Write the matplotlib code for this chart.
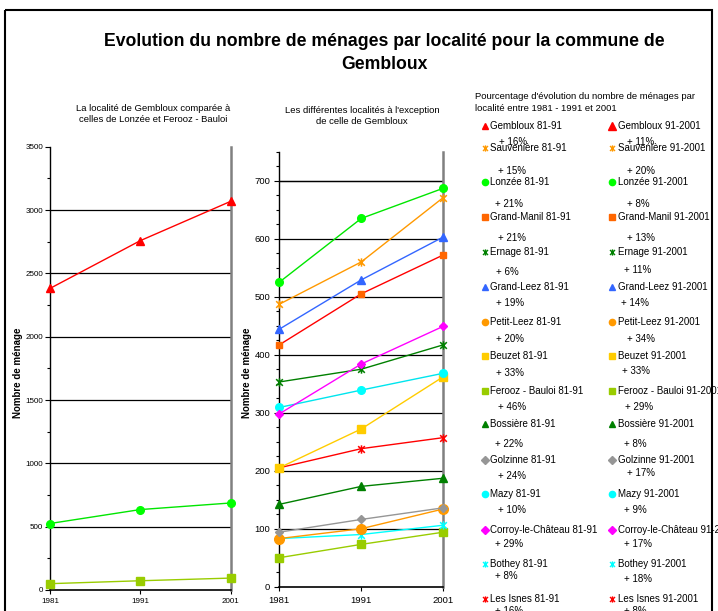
import matplotlib
matplotlib.use("Agg")
import matplotlib.pyplot as plt
from matplotlib.path import Path
from matplotlib.patches import Rectangle
from matplotlib.ticker import MultipleLocator

plt.rcParams['font.family'] = ['Liberation Sans', 'DejaVu Sans']

# ---- data: number of households per locality ----
years = [1981, 1991, 2001]

gembloux = [2381, 2758, 3068]
sauveniere = [487, 560, 671]
lonzee = [525, 635, 687]
grand_manil = [417, 505, 572]
ernage = [353, 375, 417]
grand_leez = [444, 529, 603]
petit_leez = [83, 100, 134]
beuzet = [205, 272, 362]
ferooz_bauloi = [50, 73, 94]
bossiere = [142, 173, 187]
golzinne = [94, 116, 136]
mazy = [309, 339, 368]
corroy = [298, 384, 449]
bothey = [83, 90, 106]
les_isnes = [205, 238, 257]

localites = ["Gembloux", "Sauvenière", "Lonzée", "Grand-Manil", "Ernage",
             "Grand-Leez", "Petit-Leez", "Beuzet", "Ferooz - Bauloi",
             "Bossière", "Golzinne", "Mazy", "Corroy-le-Château", "Bothey",
             "Les Isnes"]
evol_81_91 = [16, 15, 21, 21, 6, 19, 20, 33, 46, 22, 24, 10, 29, 8, 16]
evol_91_01 = [11, 20, 8, 13, 11, 14, 34, 33, 29, 8, 17, 9, 17, 18, 8]

series = {
    "Gembloux": gembloux, "Sauvenière": sauveniere, "Lonzée": lonzee,
    "Grand-Manil": grand_manil, "Ernage": ernage, "Grand-Leez": grand_leez,
    "Petit-Leez": petit_leez, "Beuzet": beuzet, "Ferooz - Bauloi": ferooz_bauloi,
    "Bossière": bossiere, "Golzinne": golzinne, "Mazy": mazy,
    "Corroy-le-Château": corroy, "Bothey": bothey, "Les Isnes": les_isnes,
}

# ---- styles ----
STAR = Path([(-1, -1), (1, 1), (-1, 1), (1, -1), (0, -1.25), (0, 1.25)],
            [Path.MOVETO, Path.LINETO] * 3)

styles = {
    "Gembloux": dict(lc='#FF0000', mc='#FF0000', m='^', ms=6),
    "Sauvenière": dict(lc='#FF9900', mc='#FF9900', m=STAR, ms=6),
    "Lonzée": dict(lc='#00E600', mc='#00FF00', m='o', ms=5.5),
    "Grand-Manil": dict(lc='#FF0000', mc='#FF6600', m='s', ms=5),
    "Ernage": dict(lc='#008000', mc='#008000', m=STAR, ms=6),
    "Grand-Leez": dict(lc='#3366FF', mc='#3366FF', m='^', ms=6),
    "Petit-Leez": dict(lc='#FF9900', mc='#FF9900', m='o', ms=7),
    "Beuzet": dict(lc='#FFCC00', mc='#FFCC00', m='s', ms=5.5),
    "Ferooz - Bauloi": dict(lc='#99CC00', mc='#99CC00', m='s', ms=5.5),
    "Bossière": dict(lc='#008000', mc='#008000', m='^', ms=6),
    "Golzinne": dict(lc='#969696', mc='#969696', m='D', ms=4.5),
    "Mazy": dict(lc='#00E5EE', mc='#00FFFF', m='o', ms=5.5),
    "Corroy-le-Château": dict(lc='#FF00FF', mc='#FF00FF', m='D', ms=4.5),
    "Bothey": dict(lc='#00FFFF', mc='#00FFFF', m=STAR, ms=6),
    "Les Isnes": dict(lc='#FF0000', mc='#FF0000', m=STAR, ms=6),
}

W, H = 718, 611
fig = plt.figure(figsize=(W / 100, H / 100), dpi=100)
fig.patch.set_facecolor('white')


def fx(x):
    return x / W


def fy(y):
    return 1 - y / H


def draw_series(ax, name, values):
    st = styles[name]
    if isinstance(st['m'], Path):
        ax.plot(years, values, color=st['lc'], lw=1.0, marker=st['m'],
                ms=st['ms'], mec=st['mc'], mew=1.1, clip_on=False, zorder=3)
    else:
        ax.plot(years, values, color=st['lc'], lw=1.0, marker=st['m'],
                ms=st['ms'], mfc=st['mc'], mec=st['mc'], clip_on=False, zorder=3)


def style_axes(ax, ymax, major, minor, fs, pad):
    ax.set_xlim(1981, 2001)
    ax.set_ylim(0, ymax)
    ax.set_xticks(years)
    ax.yaxis.set_major_locator(MultipleLocator(major))
    ax.yaxis.set_minor_locator(MultipleLocator(minor))
    ax.tick_params(axis='y', which='major', direction='out', length=3.5,
                   width=0.8, labelsize=fs, pad=pad, colors='black')
    ax.tick_params(axis='y', which='minor', direction='out', length=2.5, width=0.8)
    ax.tick_params(axis='x', direction='out', length=3, width=0.8,
                   labelsize=fs, pad=pad + 1)
    ax.spines['top'].set_visible(False)
    ax.spines['right'].set_color('#808080')
    ax.spines['right'].set_linewidth(1.8)
    ax.spines['left'].set_linewidth(1.0)
    ax.spines['bottom'].set_linewidth(1.2)
    for v in range(major, ymax, major):
        ax.axhline(v, color='black', lw=0.9, zorder=1)


# ---- left chart: Gembloux vs Lonzée and Ferooz - Bauloi ----
ax1 = fig.add_axes([fx(50), fy(590), fx(230.5) - fx(50), fy(146.7) - fy(590)])
style_axes(ax1, 3500, 500, 250, 5.8, 1.5)
for name in ["Ferooz - Bauloi", "Lonzée", "Gembloux"]:
    draw_series(ax1, name, series[name])

# ---- middle chart: all localities except Gembloux ----
ax2 = fig.add_axes([fx(279.3), fy(586.7), fx(443.3) - fx(279.3), fy(151.7) - fy(586.7)])
style_axes(ax2, 750, 100, 25, 6.8, 3)
ax2.axhline(700, color='black', lw=0.9, zorder=1)
for name in ["Ferooz - Bauloi", "Bothey", "Petit-Leez", "Golzinne", "Bossière",
             "Les Isnes", "Beuzet", "Mazy", "Ernage", "Corroy-le-Château",
             "Grand-Manil", "Grand-Leez", "Sauvenière", "Lonzée"]:
    draw_series(ax2, name, series[name])

# ---- overlay in pixel coordinates for titles, labels and the legend ----
ov = fig.add_axes([0, 0, 1, 1], zorder=5)
ov.set_xlim(0, W)
ov.set_ylim(H, 0)
ov.axis('off')
ov.patch.set_alpha(0)

ov.add_patch(Rectangle((5, 10), 707, 640, fill=False, ec='black', lw=1.5))

ov.text(384, 53, "Evolution du nombre de ménages par localité pour la commune de\nGembloux",
        ha='center', va='center', fontsize=12.7, fontweight='bold', linespacing=1.4)

ov.text(153, 114, "La localité de Gembloux comparée à\ncelles de Lonzée et Ferooz - Bauloi",
        ha='center', va='center', fontsize=6.8, linespacing=1.35)
ov.text(362, 116, "Les différentes localités à l'exception\nde celle de Gembloux",
        ha='center', va='center', fontsize=6.8, linespacing=1.35)

ov.text(18, 373, "Nombre de ménage", rotation=90, ha='center', va='center',
        fontsize=7, fontweight='bold')
ov.text(247, 373, "Nombre de ménage", rotation=90, ha='center', va='center',
        fontsize=7, fontweight='bold')

ov.text(475, 102.5, "Pourcentage d'évolution du nombre de ménages par\nlocalité entre 1981 - 1991 et 2001",
        ha='left', va='center', fontsize=6.8, linespacing=1.35)

# legend rows: label line, then percentage line
name_y = [125.7, 148, 182.3, 216.7, 252.3, 286.7, 321.7, 356, 390.7, 424.3,
          460, 494, 530, 564, 599]
pct1_y = [141.7, 170.7, 204, 238.3, 271.7, 303.3, 339, 373.3, 406.7, 444,
          476, 510, 544, 575.7, 610.7]
pct1_x = [499, 498, 495, 498, 496, 496, 496, 496, 498, 495, 498, 498, 495, 495, 495]
pct2_y = [141.7, 170.7, 204, 238.3, 270, 303.3, 339, 370.7, 406.7, 444,
          472.7, 510, 544, 579, 610.7]
pct2_x = [626.7, 626.7, 627, 627, 624, 620.7, 627.3, 622.3, 625, 624, 627, 624, 624, 624, 624]

for i, name in enumerate(localites):
    st = styles[name]
    for mx, tx, suffix in [(485, 490, " 81-91"), (611.5, 617.5, " 91-2001")]:
        ms = 4.5 if st['m'] != 'D' else 3.8
        if name == "Gembloux":
            ms = 3.8 if suffix == " 81-91" else 5.5
        if isinstance(st['m'], Path):
            ov.plot([mx], [name_y[i]], marker=st['m'], ms=ms, mec=st['mc'],
                    mew=1.0, ls='none')
        else:
            ov.plot([mx], [name_y[i]], marker=st['m'], ms=ms, mfc=st['mc'],
                    mec=st['mc'], ls='none')
        ov.text(tx, name_y[i], name + suffix, ha='left', va='center', fontsize=7)
    ov.text(pct1_x[i], pct1_y[i], f"+ {evol_81_91[i]}%", ha='left', va='center', fontsize=7)
    ov.text(pct2_x[i], pct2_y[i], f"+ {evol_91_01[i]}%", ha='left', va='center', fontsize=7)

fig.savefig("out.png", dpi=100)
